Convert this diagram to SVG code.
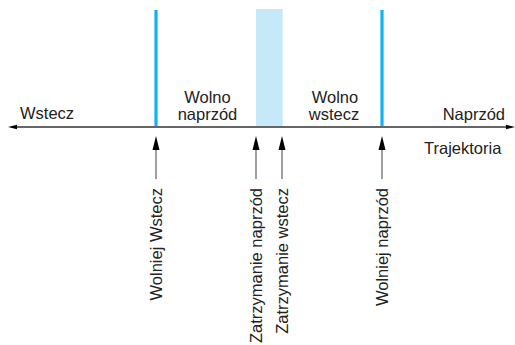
<svg xmlns="http://www.w3.org/2000/svg" width="515" height="345" viewBox="0 0 515 345">
<style>
text { font-family: "Liberation Sans", Arial, sans-serif; font-size: 16.5px; fill: #222; }
.mid { text-anchor: middle; }
.end { text-anchor: end; }
.axis { stroke: #666; stroke-width: 2; fill: none; }
.shaft { stroke: #777; stroke-width: 1.4; fill: none; }
.head { fill: #000; }
.limit { stroke: #0db4f0; stroke-width: 3.2; fill: none; }
.band { fill: #c6e9f9; }
</style>
<rect width="515" height="345" fill="#fff"/>
<g id="zone-stop">
  <rect class="band" x="256" y="9" width="26.7" height="117"/>
</g>
<g id="limit-left">
  <line class="limit" x1="156" y1="10" x2="156" y2="127"/>
</g>
<g id="limit-right">
  <line class="limit" x1="382" y1="10" x2="382" y2="127"/>
</g>
<g id="trajectory">
  <line class="axis" x1="14" y1="127" x2="509" y2="127"/>
  <polygon class="head" points="8,127 17,124.8 17,129.2"/>
  <polygon class="head" points="515,127 506,124.8 506,129.2"/>
  <text x="20" y="119">Wstecz</text>
  <text class="end" x="505" y="120">Naprzód</text>
  <text x="424" y="154">Trajektoria</text>
</g>
<g id="label-wolno-naprzod">
  <text class="mid" x="207.5" y="103">Wolno</text>
  <text class="mid" x="207.5" y="120">naprzód</text>
</g>
<g id="label-wolno-wstecz">
  <text class="mid" x="335" y="103">Wolno</text>
  <text class="mid" x="334" y="120">wstecz</text>
</g>
<g id="connectors">
  <line class="shaft" x1="156" y1="149" x2="156" y2="179"/>
  <polygon class="head" points="156,136 152.5,150 159.5,150"/>
  <line class="shaft" x1="256" y1="149" x2="256" y2="179"/>
  <polygon class="head" points="256,136 252.5,150 259.5,150"/>
  <line class="shaft" x1="282" y1="149" x2="282" y2="179"/>
  <polygon class="head" points="282,136 278.5,150 285.5,150"/>
  <line class="shaft" x1="382" y1="149" x2="382" y2="179"/>
  <polygon class="head" points="382,136 378.5,150 385.5,150"/>
</g>
<g id="event-wolniej-wstecz">
  <text class="end" transform="translate(161.5,188) rotate(-90)">Wolniej Wstecz</text>
</g>
<g id="event-zatrzymanie-naprzod">
  <text class="end" transform="translate(261.5,188) rotate(-90)">Zatrzymanie naprzód</text>
</g>
<g id="event-zatrzymanie-wstecz">
  <text class="end" transform="translate(287.5,188) rotate(-90)">Zatrzymanie wstecz</text>
</g>
<g id="event-wolniej-naprzod">
  <text class="end" transform="translate(388,188) rotate(-90)">Wolniej naprzód</text>
</g>
</svg>
